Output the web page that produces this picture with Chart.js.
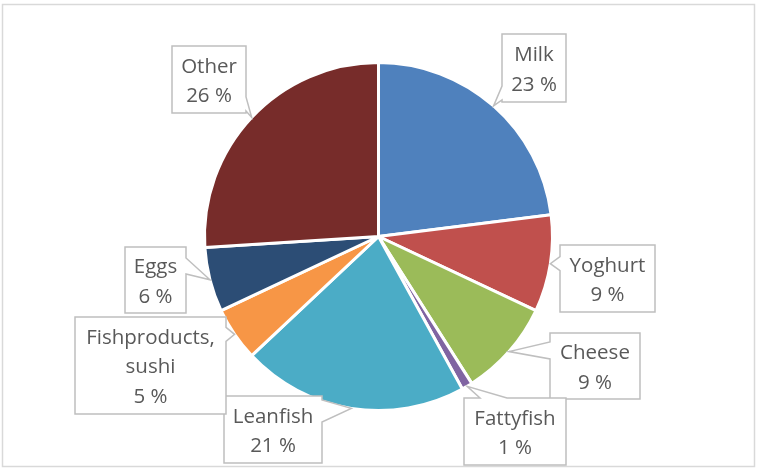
<!DOCTYPE html>
<html>
<head>
<meta charset="utf-8">
<script src="https://cdn.jsdelivr.net/npm/chart.js@4.4.1/dist/chart.umd.min.js"></script>
<style>
  html, body { margin: 0; padding: 0; background: #fff; }
</style>
</head>
<body>
<canvas id="foodChart" width="757" height="470"></canvas>
<script>
const categories = ["Milk", "Yoghurt", "Cheese", "Fattyfish", "Leanfish", "Fishproducts,\nsushi", "Eggs", "Other"];
const shares = [23, 9, 9, 1, 21, 5, 6, 26];
const sliceColors = ["#4F81BD", "#C0504D", "#9BBB59", "#8064A2", "#4BACC6", "#F79646", "#2C4D75", "#772C2A"];

// label boxes: left, top, width, height and the side the pointer leaves from
const callouts = [
  { x: 502, y: 34, w: 64, h: 68, side: "left" },
  { x: 560, y: 245, w: 95, h: 67, side: "left" },
  { x: 550, y: 333, w: 90, h: 66, side: "left", base: [342, 359] },
  { x: 464, y: 398, w: 102, h: 67, side: "top", base: [480, 507] },
  { x: 224, y: 396, w: 98, h: 67, side: "right", base: [400, 422] },
  { x: 75, y: 317, w: 151, h: 97, side: "right" },
  { x: 125, y: 247, w: 61, h: 66, side: "right", base: [258, 274] },
  { x: 172, y: 46, w: 74, h: 67, side: "right" }
];

const calloutPlugin = {
  id: "callouts",
  beforeDraw(chart) {
    const ctx = chart.ctx;
    ctx.save();
    ctx.strokeStyle = "#d9d9d9";
    ctx.lineWidth = 1.5;
    ctx.strokeRect(2.5, 4.5, 752, 462);
    ctx.restore();
  },
  afterDatasetsDraw(chart) {
    const ctx = chart.ctx;
    const arcs = chart.getDatasetMeta(0).data;
    arcs.forEach((arc, i) => {
      const p = arc.getProps(["x", "y", "startAngle", "endAngle", "outerRadius"], true);
      const mid = (p.startAngle + p.endAngle) / 2;
      const tip = { x: p.x + Math.cos(mid) * p.outerRadius, y: p.y + Math.sin(mid) * p.outerRadius };
      const b = callouts[i];
      const vertical = b.side === "left" || b.side === "right";
      let b0, b1;
      if (b.base) {
        [b0, b1] = b.base;
      } else {
        const lo = vertical ? b.y : b.x;
        const hi = vertical ? b.y + b.h : b.x + b.w;
        const c = Math.min(Math.max(vertical ? tip.y : tip.x, lo + 9), hi - 9);
        b0 = c - 7;
        b1 = c + 7;
      }
      const L = b.x, T = b.y, R = b.x + b.w, B = b.y + b.h;

      ctx.save();
      ctx.beginPath();
      ctx.moveTo(L, T);
      if (b.side === "top") { ctx.lineTo(b0, T); ctx.lineTo(tip.x, tip.y); ctx.lineTo(b1, T); }
      ctx.lineTo(R, T);
      if (b.side === "right") { ctx.lineTo(R, b0); ctx.lineTo(tip.x, tip.y); ctx.lineTo(R, b1); }
      ctx.lineTo(R, B);
      if (b.side === "bottom") { ctx.lineTo(b1, B); ctx.lineTo(tip.x, tip.y); ctx.lineTo(b0, B); }
      ctx.lineTo(L, B);
      if (b.side === "left") { ctx.lineTo(L, b1); ctx.lineTo(tip.x, tip.y); ctx.lineTo(L, b0); }
      ctx.closePath();
      ctx.fillStyle = "#ffffff";
      ctx.fill();
      ctx.strokeStyle = "#bfbfbf";
      ctx.lineWidth = 1.5;
      ctx.stroke();

      const lines = categories[i].split("\n").concat([shares[i] + " %"]);
      const lineH = 29.5;
      const cx = L + b.w / 2;
      const cy = T + b.h / 2 + 2;
      ctx.fillStyle = "#595959";
      ctx.font = "20.5px 'Open Sans'";
      ctx.textAlign = "center";
      ctx.textBaseline = "middle";
      lines.forEach((t, k) => {
        ctx.fillText(t, cx, cy + (k - (lines.length - 1) / 2) * lineH);
      });
      ctx.restore();
    });
  }
};

new Chart(document.getElementById("foodChart"), {
  type: "pie",
  data: {
    labels: categories,
    datasets: [{
      data: shares,
      backgroundColor: sliceColors,
      borderColor: "#ffffff",
      borderWidth: 3
    }]
  },
  options: {
    responsive: false,
    animation: false,
    layout: { padding: { top: 61, bottom: 58 } },
    plugins: {
      legend: { display: false },
      tooltip: { enabled: false }
    }
  },
  plugins: [calloutPlugin]
});
</script>
</body>
</html>
